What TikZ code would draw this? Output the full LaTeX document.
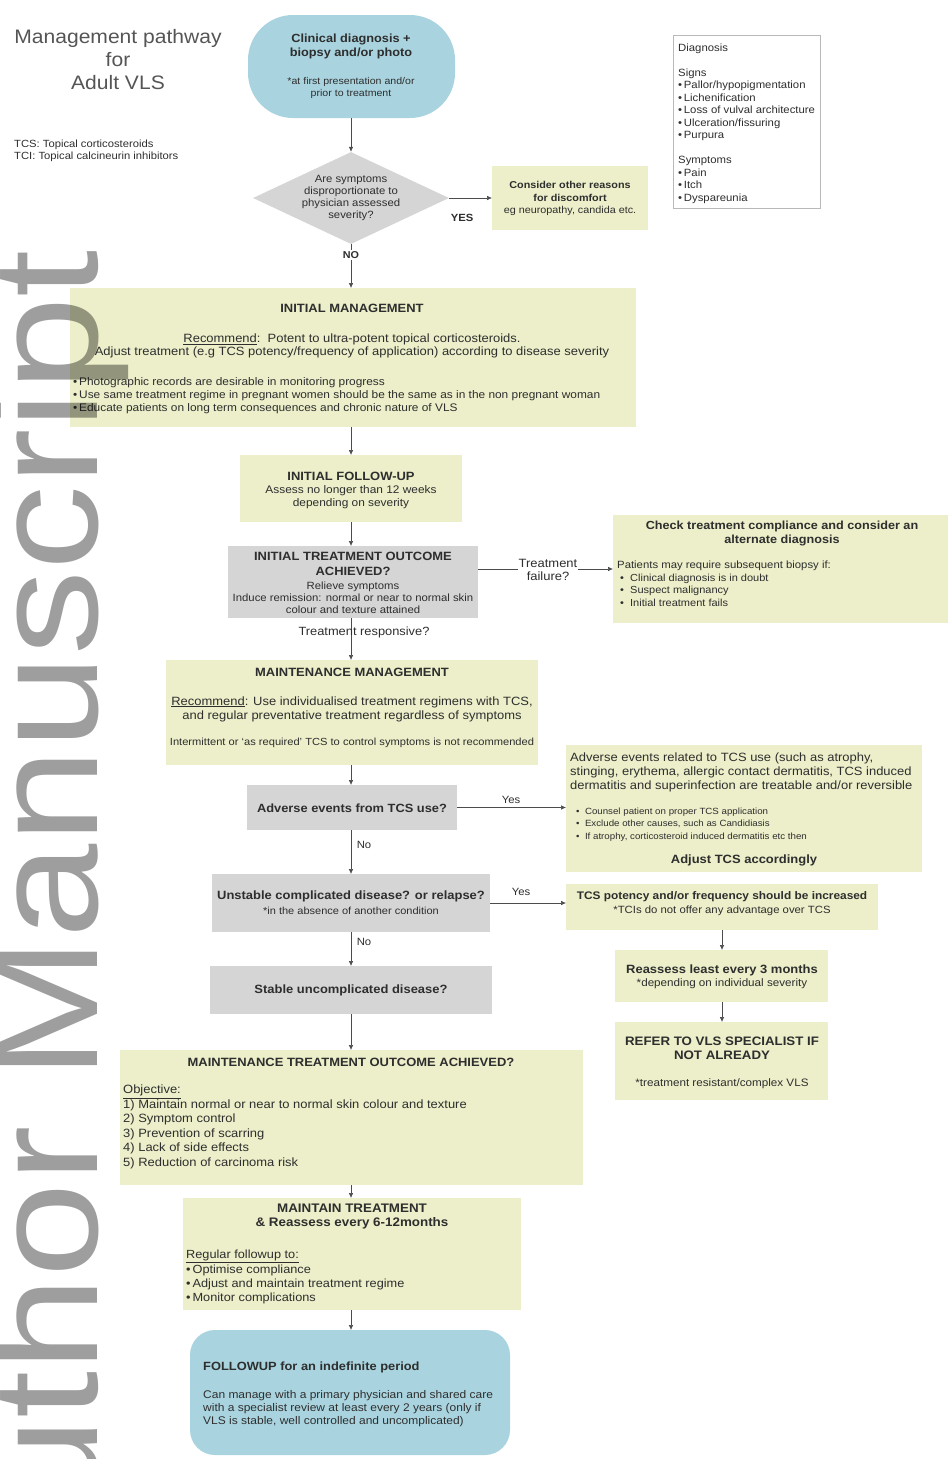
\documentclass[tikz,border=0pt]{standalone}
\usepackage{fontspec}
\setmainfont{Liberation Sans}[FakeStretch=1.08]
\newfontfamily\wmfont{Liberation Sans}[FakeStretch=1.13]
\usetikzlibrary{shapes.geometric,arrows.meta,fit}
\definecolor{yel}{HTML}{ECEFC9}
\definecolor{gry}{HTML}{D5D5D5}
\definecolor{blu}{HTML}{A9D4DF}
\definecolor{txt}{HTML}{2E2E2E}
\definecolor{ttl}{HTML}{555555}
\newcommand\fs[2]{\fontsize{#1}{#2}\selectfont}
\begin{document}
\begin{tikzpicture}[x=1pt,y=-1pt,
  box/.style={draw=none, inner sep=0pt, outer sep=0pt},
  yb/.style={box, fill=yel},
  gb/.style={box, fill=gry},
  bb/.style={box, fill=blu},
  t/.style={inner sep=0pt, text=txt, align=center},
  tl/.style={inner sep=0pt, text=txt, align=left, anchor=north west},
  arr/.style={-{Latex[length=5pt,width=4.5pt]}, draw=black!70, line width=0.6pt},
  lab/.style={inner sep=1pt, text=txt, font=\fs{10.5}{12}},
]
\useasboundingbox (0,0) rectangle (948,1459);
\coordinate (col) at (351,0);

% title and abbreviations
\node[t, text=ttl, font=\fs{19.5}{23}] (title) at (118,60) {Management pathway\\for\\Adult VLS};
\node[tl, anchor=west, font=\fs{10.4}{12}] (abbr) at (14,151) {TCS: Topical corticosteroids\\TCI: Topical calcineurin inhibitors};

% clinical diagnosis
\node[bb, rounded corners=45pt, fit={(248,15) (455,118)}] (clin) {};
\node[t, font=\fs{11.8}{13.5}\bfseries] (clinA) at (351,46.5) {Clinical diagnosis +\\biopsy and/or photo};
\node[t, font=\fs{9.8}{12}] (clinB) at (351,88) {*at first presentation and/or\\prior to treatment};

% diamond
\node[diamond, fill=gry, draw=none, inner sep=0pt, minimum width=196pt, minimum height=92pt] (dia) at (351,198) {};
\node[t, font=\fs{10.5}{12}] (diaT) at (351,198) {Are symptoms\\disproportionate to\\physician assessed\\severity?};

% consider other reasons
\node[yb, fit={(492,166) (648,230)}] (cons) {};
\node[t, font=\fs{10}{12.3}] (consT) at (570,198.5) {\textbf{Consider other reasons}\\\textbf{for discomfort}\\eg neuropathy, candida etc.};

% diagnosis legend
\node[box, draw=gray!55, fill=white, line width=0.6pt, fit={(673,35) (820,208)}] (diag) {};
\node[tl, font=\fs{10.5}{12.5}] (diagT) at (678,43.5) {Diagnosis\\~\\Signs\\\textbullet\,Pallor/hypopigmentation\\\textbullet\,Lichenification\\\textbullet\,Loss of vulval architecture\\\textbullet\,Ulceration/fissuring\\\textbullet\,Purpura\\~\\Symptoms\\\textbullet\,Pain\\\textbullet\,Itch\\\textbullet\,Dyspareunia};

% initial management
\node[yb, fit={(70,288) (636,427)}] (im) {};
\node[t, font=\fs{12}{14}\bfseries] (imA) at (352,308) {INITIAL MANAGEMENT};
\node[t, font=\fs{12}{13.5}] (imB) at (352,346) {\underline{Recommend}:\ \ Potent to ultra-potent topical corticosteroids.\\Adjust treatment (e.g TCS potency/frequency of application) according to disease severity};
\node[tl, font=\fs{11}{13}] (imC) at (73,377) {\textbullet\,Photographic records are desirable in monitoring progress\\\textbullet\,Use same treatment regime in pregnant women should be the same as in the non pregnant woman\\\textbullet\,Educate patients on long term consequences and chronic nature of VLS};

% initial follow-up
\node[yb, fit={(240,455) (462,522)}] (ifu) {};
\node[t, font=\fs{12}{14}\bfseries] (ifuA) at (351,476) {INITIAL FOLLOW-UP};
\node[t, font=\fs{11}{13.5}] (ifuB) at (351,497) {Assess no longer than 12 weeks\\depending on severity};

% initial treatment outcome
\node[gb, fit={(228,546) (478,618)}] (ito) {};
\node[t, font=\fs{12}{15}\bfseries] (itoA) at (353,563.5) {INITIAL TREATMENT OUTCOME\\ACHIEVED?};
\node[t, font=\fs{10.5}{12.2}] (itoB) at (353,597.5) {Relieve symptoms\\Induce remission: normal or near to normal skin\\colour and texture attained};

% check compliance
\node[yb, fit={(613,515) (948,623)}] (chk) {};
\node[t, font=\fs{11.7}{14}\bfseries] (chkA) at (782,533) {Check treatment compliance and consider an\\alternate diagnosis};
\node[tl, anchor=west, font=\fs{10.5}{12}] (chkB) at (617,566) {Patients may require subsequent biopsy if:};
\node[tl, font=\fs{10.2}{12.4}] (chkC) at (620,574) {\textbullet\ \ Clinical diagnosis is in doubt\\\textbullet\ \ Suspect malignancy\\\textbullet\ \ Initial treatment fails};

% maintenance management
\node[yb, fit={(166,660) (538,765)}] (mm) {};
\node[t, font=\fs{12}{14}\bfseries] (mmA) at (352,672) {MAINTENANCE MANAGEMENT};
\node[t, font=\fs{12}{14}] (mmB) at (352,709) {\underline{Recommend}: Use individualised treatment regimens with TCS,\\and regular preventative treatment regardless of symptoms};
\node[t, font=\fs{10.3}{12}] (mmC) at (352,743) {Intermittent or `as required' TCS to control symptoms is not recommended};

% adverse events
\node[gb, fit={(247,785) (457,830)}] (adv) {};
\node[t, font=\fs{11.9}{14}\bfseries] (advT) at (352,808) {Adverse events from TCS use?};
\node[yb, fit={(566,745) (922,872)}] (advr) {};
\node[tl, font=\fs{12}{14}] (advrA) at (570,753) {Adverse events related to TCS use (such as atrophy,\\stinging, erythema, allergic contact dermatitis, TCS induced\\dermatitis and superinfection are treatable and/or reversible};
\node[tl, font=\fs{9}{12.2}] (advrB) at (576,808) {\textbullet\ \ Counsel patient on proper TCS application\\\textbullet\ \ Exclude other causes, such as Candidiasis\\\textbullet\ \ If atrophy, corticosteroid induced dermatitis etc then};
\node[t, font=\fs{12}{14}\bfseries] (advrC) at (744,860) {Adjust TCS accordingly};

% unstable
\node[gb, fit={(212,874) (490,932)}] (uns) {};
\node[t, font=\fs{12}{14}\bfseries] (unsA) at (351,896) {Unstable complicated disease? or relapse?};
\node[t, font=\fs{10.2}{12}] (unsB) at (351,911) {*in the absence of another condition};

% TCS potency
\node[yb, fit={(566,884) (878,930)}] (tcs) {};
\node[t, font=\fs{11}{13}\bfseries] (tcsA) at (722,897) {TCS potency and/or frequency should be increased};
\node[t, font=\fs{10.5}{12}] (tcsB) at (722,911) {*TCIs do not offer any advantage over TCS};

% reassess
\node[yb, fit={(615,950) (828,1002)}] (rea) {};
\node[t, font=\fs{12}{14}\bfseries] (reaA) at (722,970) {Reassess least every 3 months};
\node[t, font=\fs{10.8}{12}] (reaB) at (722,984) {*depending on individual severity};

% refer
\node[yb, fit={(615,1022) (828,1100)}] (ref) {};
\node[t, font=\fs{12.3}{14}\bfseries] (refA) at (722,1048) {REFER TO VLS SPECIALIST IF\\NOT ALREADY};
\node[t, font=\fs{10.8}{12}] (refB) at (722,1084) {*treatment resistant/complex VLS};

% stable
\node[gb, fit={(210,966) (492,1014)}] (stb) {};
\node[t, font=\fs{12}{14}\bfseries] (stbT) at (351,990) {Stable uncomplicated disease?};

% maintenance treatment outcome
\node[yb, fit={(120,1050) (583,1185)}] (mto) {};
\node[t, font=\fs{12}{14}\bfseries] (mtoA) at (351,1062) {MAINTENANCE TREATMENT OUTCOME ACHIEVED?};
\node[tl, font=\fs{12}{14.5}] (mtoB) at (123,1085) {\underline{Objective:}\\1) Maintain normal or near to normal skin colour and texture\\2) Symptom control\\3) Prevention of scarring\\4) Lack of side effects\\5) Reduction of carcinoma risk};

% maintain treatment
\node[yb, fit={(183,1198) (521,1310)}] (mt) {};
\node[t, font=\fs{12.4}{14}\bfseries] (mtA) at (352,1217) {MAINTAIN TREATMENT\\\& Reassess every 6-12months};
\node[tl, font=\fs{11.8}{14.3}] (mtB) at (186,1250) {\underline{Regular followup to:}\\\textbullet\,Optimise compliance\\\textbullet\,Adjust and maintain treatment regime\\\textbullet\,Monitor complications};

% followup
\node[bb, rounded corners=25pt, fit={(190,1330) (510,1455)}] (fu) {};
\node[tl, anchor=west, font=\fs{11.9}{14}\bfseries] (fuA) at (203,1367) {FOLLOWUP for an indefinite period};
\node[tl, font=\fs{11.1}{13.3}] (fuB) at (203,1390) {Can manage with a primary physician and shared care\\with a specialist review at least every 2 years (only if\\VLS is stable, well controlled and uncomplicated)};

% connectors
\draw[arr] (clin.south -| col) -- (dia.north -| col);
\draw[arr] (dia.east) -- (cons.west |- dia.east);
\node[lab, font=\fs{10.4}{12}\bfseries] (yes1) at (462,218) {YES};
\draw[arr] (dia.south -| col) -- (im.north -| col);
\node[lab, fill=white, font=\fs{10}{12}\bfseries] (no1) at (351,255) {NO};
\draw[arr] (im.south -| col) -- (ifu.north -| col);
\draw[arr] (ifu.south -| col) -- (ito.north -| col);
\draw[arr] (ito.east |- chk.west) -- (chk.west);
\node[lab, fill=white, align=center, font=\fs{12}{13.5}] (tf) at (548,570) {Treatment\\failure?};
\draw[arr] (ito.south -| col) -- (mm.north -| col);
\node[lab, font=\fs{11.9}{13}] (tr) at (364,632) {Treatment responsive?};
\draw[arr] (mm.south -| col) -- (adv.north -| col);
\draw[arr] (adv.east) -- (advr.west |- adv.east);
\node[lab] (yes2) at (511,800) {Yes};
\draw[arr] (adv.south -| col) -- (uns.north -| col);
\node[lab] (no2) at (364,845) {No};
\draw[arr] (uns.east) -- (tcs.west |- uns.east);
\node[lab] (yes3) at (521,892) {Yes};
\draw[arr] (tcs.south) -- (rea.north -| tcs.south);
\draw[arr] (rea.south -| tcs.south) -- (ref.north -| tcs.south);
\draw[arr] (uns.south -| col) -- (stb.north -| col);
\node[lab] (no3) at (364,942) {No};
\draw[arr] (stb.south -| col) -- (mto.north -| col);
\draw[arr] (mto.south -| col) -- (mt.north -| col);
\draw[arr] (mt.south -| col) -- (fu.north -| col);

% watermark
\node[inner sep=0pt, rotate=90, anchor=base east, text=black, opacity=0.38, font=\wmfont\fs{150}{150}] (wm) at (97,250) {Author Manuscript};
\end{tikzpicture}
\end{document}
